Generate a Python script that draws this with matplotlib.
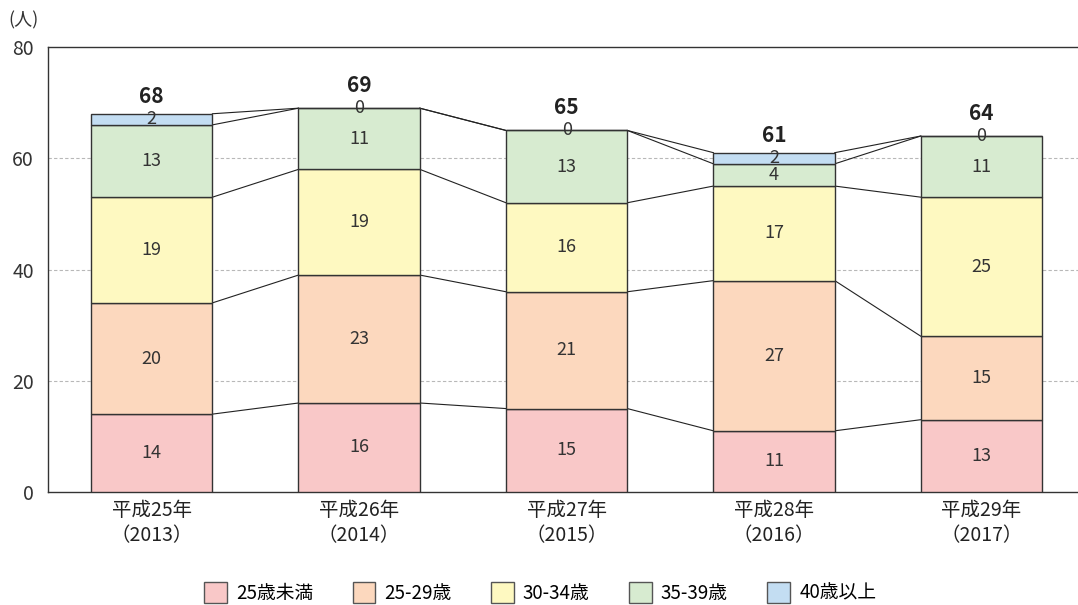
import numpy as np
import matplotlib.pyplot as plt

plt.rcParams['font.family'] = ['Noto Sans CJK JP', 'DejaVu Sans']

years = ['平成25年\n（2013）', '平成26年\n（2014）', '平成27年\n（2015）',
         '平成28年\n（2016）', '平成29年\n（2017）']
groups = ['25歳未満', '25-29歳', '30-34歳', '35-39歳', '40歳以上']
under25 = [14, 16, 15, 11, 13]
age25_29 = [20, 23, 21, 27, 15]
age30_34 = [19, 19, 16, 17, 25]
age35_39 = [13, 11, 13, 4, 11]
over40 = [2, 0, 0, 2, 0]
colors = ['#F9C8C8', '#FCD8BE', '#FEF9C1', '#D7EBD0', '#C3DDF2']

series = [under25, age25_29, age30_34, age35_39, over40]
data = np.array(series, dtype=float)
totals = data.sum(axis=0)

fig = plt.figure(figsize=(10.78, 6.05), dpi=100)
ax = fig.add_axes([48 / 1078, 1 - 492 / 605, 1030 / 1078, 445 / 605])

x = np.arange(len(years))
width = 0.585
bottom = np.zeros(len(years))
for vals, color, name in zip(data, colors, groups):
    ax.bar(x, vals, width, bottom=bottom, color=color, edgecolor='#333333',
           linewidth=1.0, label=name, zorder=3)
    for xi, v, b in zip(x, vals, bottom):
        ypos = b + v / 2 if v > 0 else b
        ax.text(xi, ypos, '%d' % v, ha='center', va='center', fontsize=13,
                color='#333333', zorder=5)
    bottom = bottom + vals

# connecting lines between bar boundaries
cum = np.cumsum(data, axis=0)
for level in cum:
    for i in range(len(years) - 1):
        ax.plot([x[i] + width / 2, x[i + 1] - width / 2], [level[i], level[i + 1]],
                color='#222222', linewidth=0.8, zorder=2)

# totals sit a bit higher when a "0" label is on top of the bar
for xi, t, top in zip(x, totals, data[-1]):
    off = 3.1 if top > 0 else 4.1
    ax.text(xi, t + off, '%d' % t, ha='center', va='center', fontsize=15,
            fontweight='bold', color='#222222')

ax.set_ylim(0, 80)
ax.set_xlim(-0.5, 4.465)
ax.set_yticks([0, 20, 40, 60, 80])
ax.tick_params(axis='y', length=0, labelsize=14, colors='#333333', pad=10)
ax.set_xticks(x)
ax.set_xticklabels(years, fontsize=14, linespacing=1.25)
ax.tick_params(axis='x', length=0, colors='#222222', pad=6)
for v in [20, 40, 60]:
    ax.axhline(v, color='#B8B8B8', linestyle=(0, (3, 2)), linewidth=0.8, zorder=1)
ax.spines['right'].set_visible(False)
for s in ['left', 'top', 'bottom']:
    ax.spines[s].set_color('#333333')
    ax.spines[s].set_linewidth(1.0)

fig.text(8 / 1078, 1 - 20 / 605, '(人)', fontsize=13, color='#333333', va='center')

leg = fig.legend(loc='center', bbox_to_anchor=(0.501, 1 - 593 / 605), ncol=5,
                 frameon=False, fontsize=13.5, handlelength=1.2, handleheight=1.3,
                 columnspacing=2.1, handletextpad=0.5)
for h in leg.legend_handles:
    h.set_edgecolor('#555555')

fig.savefig('out.png', dpi=100)
